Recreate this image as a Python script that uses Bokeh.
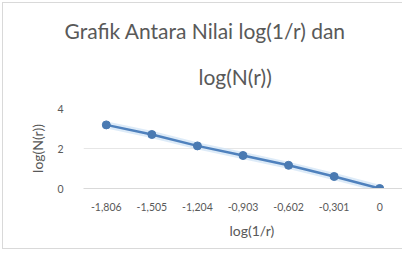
from bokeh.plotting import figure
from bokeh.models import Title, Range1d, FixedTicker
from bokeh.embed import file_html
from bokeh.resources import INLINE

categories = ["-1,806", "-1,505", "-1,204", "-0,903", "-0,602", "-0,301", "0"]
log_n = [3.18, 2.70, 2.13, 1.65, 1.16, 0.60, 0.0]
y_ticks = [0, 2, 4]

FONT = "Lato"
GRAY = "#595959"
EDGE = "1px solid #d9d9d9"

p = figure(x_range=categories, y_range=Range1d(0, 4), width=400, height=247,
           output_backend="svg", toolbar_location=None,
           min_border_left=80, min_border_right=1, min_border_top=105, min_border_bottom=62)
p.styles = {"border-left": EDGE, "border-top": EDGE, "border-bottom": EDGE,
            "margin-left": "2px", "margin-top": "2px"}
p.outline_line_color = None
p.background_fill_color = "white"
p.border_fill_color = "white"

p.line(categories, log_n, line_color="#d4e6f6", line_width=7, line_alpha=0.8)
p.line(categories, log_n, line_color="#4f81bd", line_width=2.5)
p.scatter(categories, log_n, size=8, fill_color="#4a7ab2", line_color="#4a7ab2")

p.xgrid.grid_line_color = None
p.ygrid.grid_line_color = "#e6e6e6"
p.ygrid.ticker = FixedTicker(ticks=y_ticks)
p.yaxis.ticker = FixedTicker(ticks=y_ticks)

for ax in (p.xaxis, p.yaxis):
    ax.axis_line_color = None
    ax.major_tick_line_color = None
    ax.minor_tick_line_color = None
    ax.major_label_text_color = GRAY
    ax.major_label_text_font = FONT
    ax.major_label_text_font_size = "10.5px"
    ax.axis_label_text_color = GRAY
    ax.axis_label_text_font = FONT
    ax.axis_label_text_font_size = "14px"
    ax.axis_label_text_font_style = "normal"

p.xaxis.axis_line_color = "#d9d9d9"
p.xaxis.major_label_standoff = 8
p.yaxis.major_label_standoff = 14
p.yaxis.axis_label = "log(N(r))"
p.yaxis.axis_label_standoff = 8

xl = Title(text="log(1/r)", align="left", offset=146, text_color=GRAY,
           text_font=FONT, text_font_size="14px", text_font_style="normal", standoff=13)
p.add_layout(xl, "below")

t2 = Title(text="log(N(r))", align="left", offset=115, text_color=GRAY,
           text_font=FONT, text_font_size="21px", text_font_style="normal", standoff=39)
t1 = Title(text="Grafik Antara Nilai log(1/r) dan", align="left", offset=-19, text_color=GRAY,
           text_font=FONT, text_font_size="21px", text_font_style="normal", standoff=0)
p.add_layout(t2, "above")
p.add_layout(t1, "above")

open("out.html", "w").write(file_html(p, INLINE))
